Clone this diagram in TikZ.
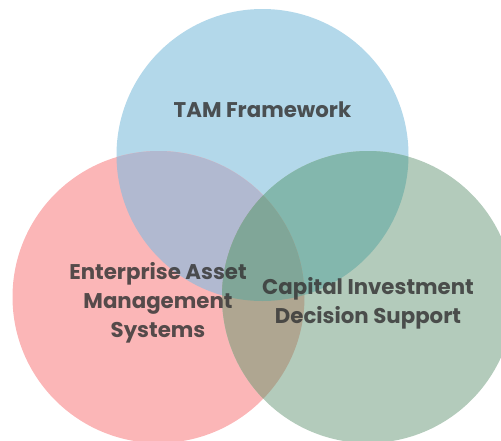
\documentclass[tikz,border=0pt]{standalone}
\usepackage{fontspec}
\setmainfont{Poppins}
\begin{document}
\begin{tikzpicture}[x=1pt,y=-1pt,
  lbl/.style={font=\bfseries\fontsize{21.3}{29}\selectfont, text=black!78, text opacity=0.85, align=center, inner sep=0pt}]
\useasboundingbox (0,0) rectangle (501,440);
% circle centres and radius
\def\R{146}
\coordinate (cb) at (262.5,155);
\coordinate (cr) at (158.5,297);
\coordinate (cg) at (368,297);
% single circles
\fill[color={rgb,255:red,179;green,216;blue,234}] (cb) circle (\R);
\fill[color={rgb,255:red,251;green,182;blue,183}] (cr) circle (\R);
\fill[color={rgb,255:red,179;green,203;blue,187}] (cg) circle (\R);
% pairwise overlaps
\begin{scope}
  \clip (cb) circle (\R);
  \fill[color={rgb,255:red,177;green,185;blue,208}] (cr) circle (\R);
  \fill[color={rgb,255:red,131;green,183;blue,173}] (cg) circle (\R);
\end{scope}
\begin{scope}
  \clip (cr) circle (\R);
  \fill[color={rgb,255:red,175;green,166;blue,145}] (cg) circle (\R);
\end{scope}
% triple overlap
\begin{scope}
  \clip (cb) circle (\R);
  \clip (cr) circle (\R);
  \fill[color={rgb,255:red,128;green,166;blue,152}] (cg) circle (\R);
\end{scope}
% labels
\node[lbl] (tam) at (262.5,110) {TAM Framework};
\node[lbl] (eam) at (158,303) {Enterprise Asset\\Management\\Systems};
\node[lbl] (cid) at (368,303) {Capital Investment\\Decision Support};
\end{tikzpicture}
\end{document}
